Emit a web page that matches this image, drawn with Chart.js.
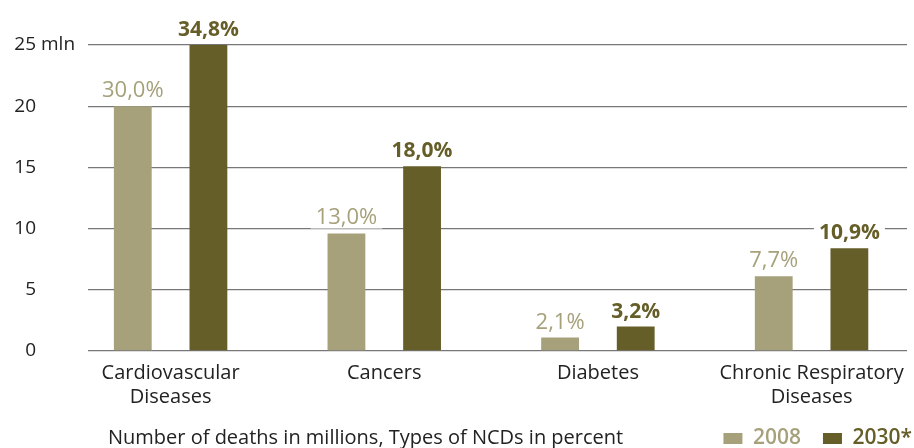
<!DOCTYPE html>
<html>
<head>
<meta charset="utf-8">
<script src="https://cdn.jsdelivr.net/npm/chart.js@4/dist/chart.umd.min.js"></script>
<style>
  html, body { margin: 0; padding: 0; background: #fff; }
  #wrap { width: 914px; height: 448px; }
</style>
</head>
<body>
<div id="wrap"><canvas id="ncdChart" width="914" height="448"></canvas></div>
<script>
// data (millions of deaths)
var categories = [['Cardiovascular', 'Diseases'], 'Cancers', 'Diabetes', ['Chronic Respiratory', 'Diseases']];
var years = ['2008', '2030*'];
var deaths2008 = [20, 9.6, 1.1, 6.1];
var deaths2030 = [25, 15.1, 2.0, 8.4];
var share2008 = ['30,0%', '13,0%', '2,1%', '7,7%'];
var share2030 = ['34,8%', '18,0%', '3,2%', '10,9%'];
var yTicks = [0, 5, 10, 15, 20, 25];

var lightOlive = '#a6a17b';
var darkOlive = '#655e28';
var fontName = "'Open Sans', sans-serif";

function toPoints(arr) {
    return arr.map(function(v, i) { return { x: i, y: v }; });
}

// percent labels above the bars, with a white patch behind them
var barLabels = {
    id: 'barLabels',
    afterDatasetsDraw: function(chart) {
        var ctx = chart.ctx;
        var texts = [share2008, share2030];
        ctx.save();
        chart.data.datasets.forEach(function(ds, di) {
            var meta = chart.getDatasetMeta(di);
            ctx.font = di === 0 ? '500 22px ' + fontName : '700 21px ' + fontName;
            meta.data.forEach(function(bar, i) {
                var t = texts[di][i];
                var w = ctx.measureText(t).width;
                var y = bar.y - 9;
                ctx.fillStyle = '#fff';
                ctx.fillRect(bar.x - w / 2 - 5, y - 19, w + 10, 23);
                ctx.fillStyle = ds.backgroundColor;
                ctx.textAlign = 'center';
                ctx.textBaseline = 'alphabetic';
                ctx.fillText(t, bar.x, y);
            });
        });
        ctx.restore();
    }
};

// "mln" after the top tick, the footnote line, legend pushed to the right edge
var extraText = {
    id: 'extraText',
    afterLayout: function(chart) {
        if (chart.legend) {
            chart.legend.left += 23;
            chart.legend.right += 23;
        }
    },
    afterDraw: function(chart) {
        var ctx = chart.ctx;
        var yScale = chart.scales.y;
        ctx.save();
        ctx.font = '19px ' + fontName;
        ctx.fillStyle = '#222';
        ctx.textAlign = 'left';
        ctx.textBaseline = 'middle';
        ctx.fillText('mln', 41, yScale.getPixelForValue(25));
        ctx.font = '20px ' + fontName;
        ctx.textBaseline = 'alphabetic';
        ctx.fillText('Number of deaths in millions, Types of NCDs in percent', 108, 444);
        ctx.restore();
    }
};

var ctx = document.getElementById('ncdChart');
var ncdChart = new Chart(ctx, {
    type: 'bar',
    data: {
        datasets: [{
            label: years[0],
            data: toPoints(deaths2008),
            backgroundColor: lightOlive
        }, {
            label: years[1],
            data: toPoints(deaths2030),
            backgroundColor: darkOlive
        }]
    },
    options: {
        responsive: false,
        animation: false,
        devicePixelRatio: 1,
        categoryPercentage: 0.708,
        barPercentage: 0.5,
        layout: { padding: { top: 45, right: 3, left: 0, bottom: -11 } },
        scales: {
            x: {
                type: 'linear',
                offset: false,
                min: -0.3866,
                max: 3.447,
                grid: { display: false, drawTicks: false },
                border: { display: false },
                afterBuildTicks: function(scale) {
                    scale.ticks = categories.map(function(c, i) { return { value: i }; });
                },
                afterFit: function(scale) { scale.height = 55; },
                ticks: {
                    autoSkip: false,
                    maxRotation: 0,
                    padding: 10,
                    color: '#222',
                    font: { family: fontName, size: 20 },
                    callback: function(v) { return categories[v]; }
                }
            },
            y: {
                min: 0,
                max: 25,
                afterBuildTicks: function(scale) {
                    scale.ticks = yTicks.map(function(v) { return { value: v }; });
                },
                afterFit: function(scale) {
                    scale.width = 88;
                    scale.paddingTop = 12;
                    scale.paddingBottom = 12;
                },
                grid: { color: '#777', lineWidth: 1.3, drawTicks: false },
                border: { display: false },
                ticks: {
                    padding: 52,
                    color: '#222',
                    font: { family: fontName, size: 19 }
                }
            }
        },
        plugins: {
            tooltip: { enabled: false },
            legend: {
                position: 'bottom',
                align: 'end',
                labels: {
                    boxWidth: 19,
                    boxHeight: 11,
                    padding: 22,
                    font: { family: fontName, size: 21, weight: '600' },
                    generateLabels: function(chart) {
                        return chart.data.datasets.map(function(ds, i) {
                            return {
                                text: ds.label,
                                fillStyle: ds.backgroundColor,
                                strokeStyle: ds.backgroundColor,
                                lineWidth: 0,
                                fontColor: ds.backgroundColor,
                                datasetIndex: i
                            };
                        });
                    }
                }
            }
        }
    },
    plugins: [barLabels, extraText]
});
</script>
</body>
</html>
